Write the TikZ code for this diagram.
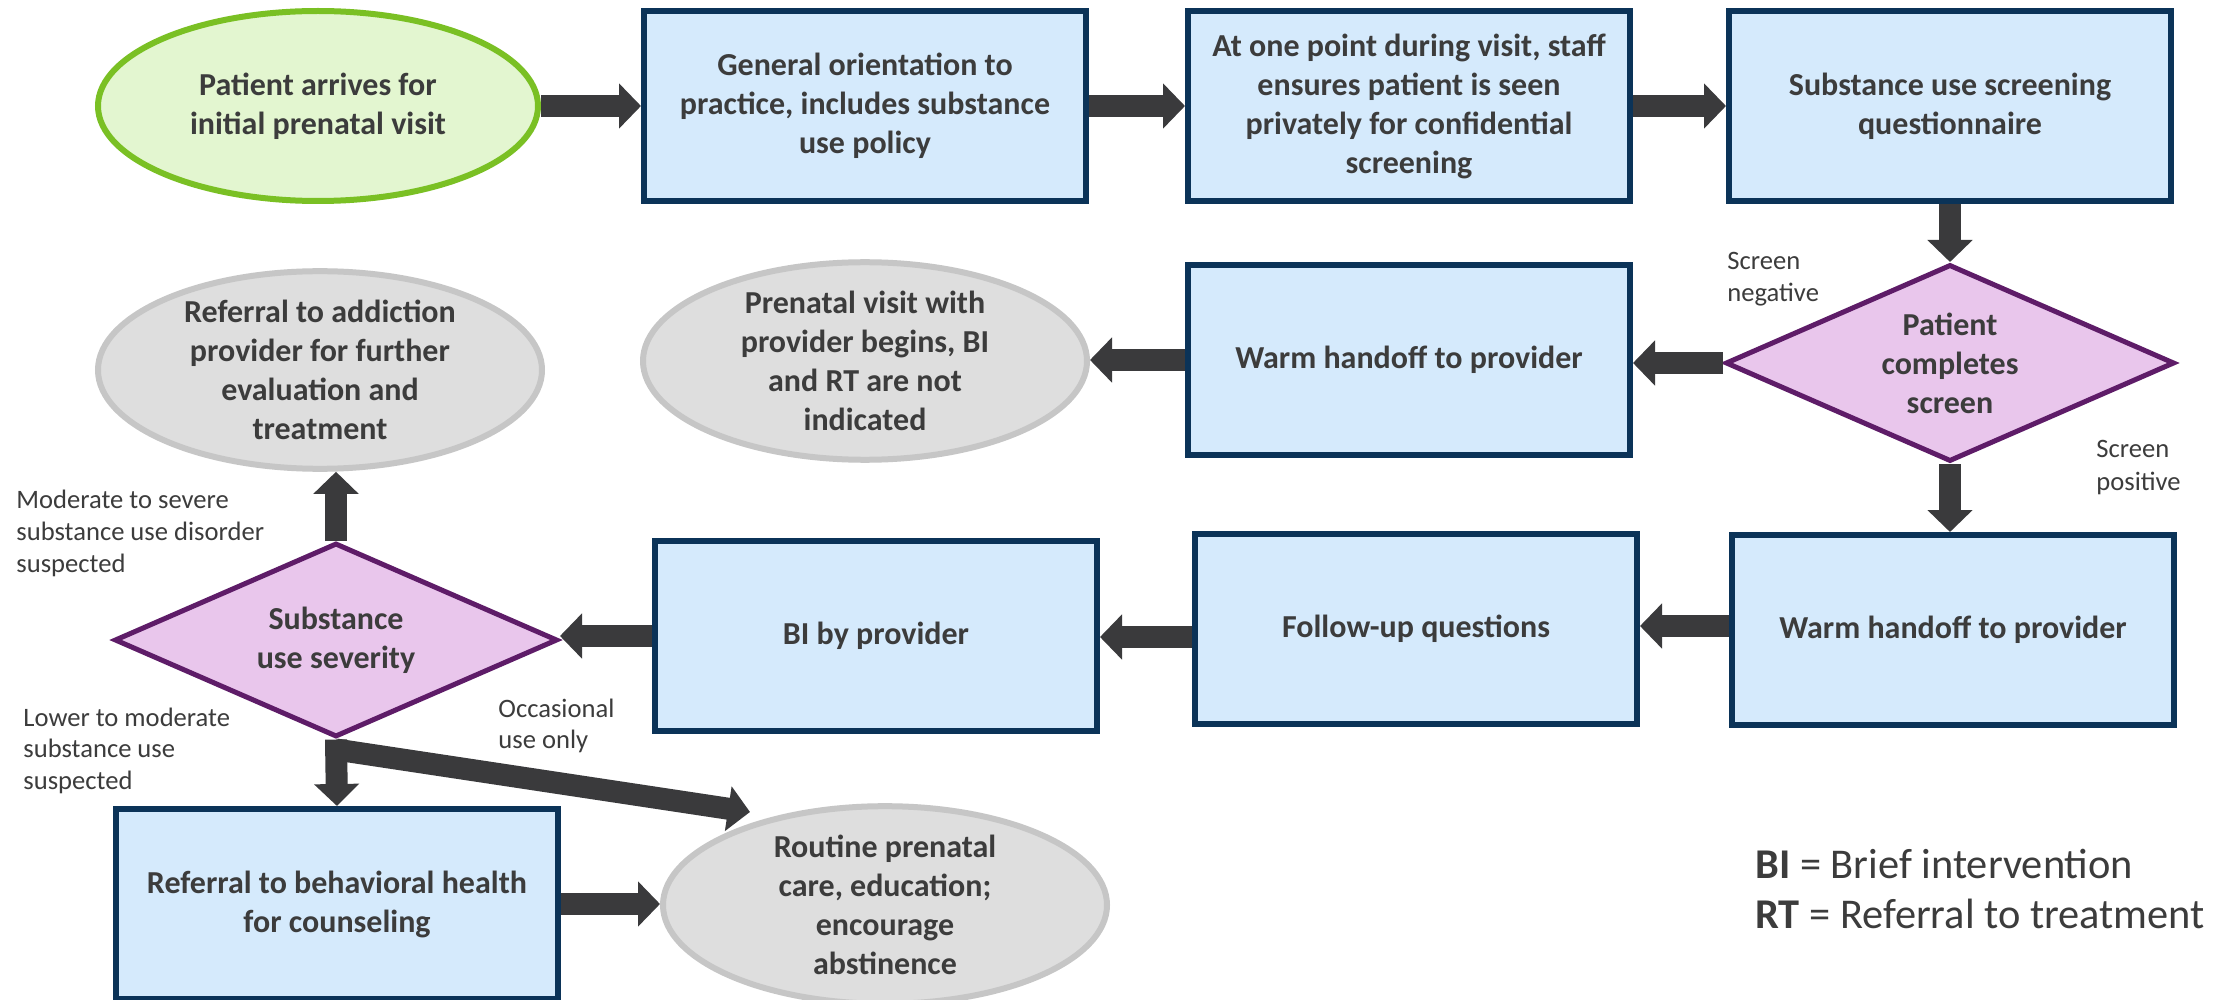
\documentclass[tikz,border=0pt]{standalone}
\usepackage{fontspec}
\setmainfont{Carlito}
\usetikzlibrary{shapes.geometric,arrows.meta,calc}
\definecolor{navy}{HTML}{0B3358}
\definecolor{boxfill}{HTML}{D5EAFC}
\definecolor{grnline}{HTML}{7AC024}
\definecolor{grnfill}{HTML}{E3F6D0}
\definecolor{gryline}{HTML}{C6C6C6}
\definecolor{gryfill}{HTML}{DEDEDE}
\definecolor{dmdfill}{HTML}{E9C6EC}
\definecolor{dmdline}{HTML}{5E1C68}
\definecolor{arr}{HTML}{3A3A3C}
\definecolor{txt}{HTML}{3C3C3C}
\newcommand{\mainfnt}{\fontsize{16pt}{19.5pt}\selectfont\bfseries}
\newcommand{\smallfnt}{\fontsize{13.3pt}{16pt}\selectfont}
\newcommand{\legfnt}{\fontsize{21.2pt}{25pt}\selectfont}
\tikzset{
  stepbox/.style={draw=navy, line width=3pt, fill=boxfill, minimum width=221pt, minimum height=95pt, inner sep=0pt, align=center, font=\mainfnt, text=txt},
  startell/.style={ellipse, draw=grnline, line width=3pt, fill=grnfill, minimum width=220pt, minimum height=95pt, inner sep=0pt, align=center, font=\mainfnt, text=txt},
  endell/.style={ellipse, draw=gryline, line width=3pt, fill=gryfill, minimum width=222pt, minimum height=96pt, inner sep=0pt, align=center, font=\mainfnt, text=txt},
  decide/.style={diamond, aspect=2.3, draw=dmdline, line width=2.5pt, fill=dmdfill, inner sep=0pt, align=center, font=\mainfnt, text=txt},
  flow/.style={draw=arr, line width=11pt, -{Triangle[length=11pt,width=22pt]}},
  lbl/.style={anchor=base west, inner sep=0pt, font=\smallfnt, text=txt},
  leg/.style={anchor=base west, inner sep=0pt, font=\legfnt, text=txt}
}
\begin{document}
\begin{tikzpicture}[x=0.5pt,y=-0.5pt]
\fill[white] (0,0) rectangle (2229,1000);
\useasboundingbox (0,0) rectangle (2229,1000);

% top row
\node[startell] (e1) at (318,106) {Patient arrives for\\initial prenatal visit};
\node[stepbox] (b1) at (865,106) {General orientation to\\practice, includes substance\\use policy};
\node[stepbox] (b2) at (1409,106) {At one point during visit, staff\\ensures patient is seen\\privately for confidential\\screening};
\node[stepbox] (b3) at (1950,106) {Substance use screening\\questionnaire};

% second row
\node[decide, minimum width=224.5pt, minimum height=98.5pt] (d1) at (1950,363) {Patient\\completes\\screen};
\node[stepbox] (b4) at (1409,360) {Warm handoff to provider};
\node[endell] (e3) at (865,361) {Prenatal visit with\\provider begins, BI\\and RT are not\\indicated};
\node[endell] (e2) at (320,370) {Referral to addiction\\provider for further\\evaluation and\\treatment};

% third row
\node[stepbox] (b5) at (1953,630) {Warm handoff to provider};
\node[stepbox] (b6) at (1416,629) {Follow-up questions};
\node[stepbox] (b7) at (876,636) {BI by provider};
\node[decide, minimum width=221.5pt, minimum height=97pt] (d2) at (336,640) {Substance\\use severity};

% bottom row
\node[stepbox] (b8) at (337,904) {Referral to behavioral health\\for counseling};
\node[endell] (e4) at (885,905) {Routine prenatal\\care, education;\\encourage\\abstinence};
\coordinate (occ) at (750,812);

% connectors
\draw[flow] (e1.east) -- (b1.west);
\draw[flow] (b1.east) -- (b2.west);
\draw[flow] (b2.east) -- (b3.west);
\draw[flow] (b3.south) -- (d1.north);
\draw[flow] (d1.west) -- (d1.west -| b4.east);
\draw[flow] (b4.west) -- (b4.west -| e3.east);
\draw[flow] (d1.south) -- (d1.south |- b5.north);
\draw[flow] ([yshift=2pt]b5.west) -- ([yshift=2pt]b5.west -| b6.east);
\draw[flow] ([yshift=-4pt]b6.west) -- ([yshift=-4pt]b6.west -| b7.east);
\draw[flow] (b7.west) -- (b7.west -| d2.east);
\draw[flow] (d2.north) -- (d2.north |- e2.south);
\draw[flow] (d2.south) -- (b8.north);
\draw[flow] ([yshift=-5pt]d2.south) -- (occ);
\draw[flow] (b8.east) -- (b8.east -| e4.west);

% labels
\node[lbl] (ln1) at (1727,270) {Screen};
\node[lbl] (ln2) at (1727,302) {negative};
\node[lbl] (lp1) at (2096,458) {Screen};
\node[lbl] (lp2) at (2096,490) {positive};
\node[lbl] (lm1) at (16,508) {Moderate to severe};
\node[lbl] (lm2) at (16,540) {substance use disorder};
\node[lbl] (lm3) at (16,572) {suspected};
\node[lbl] (ll1) at (23,726) {Lower to moderate};
\node[lbl] (ll2) at (23,757) {substance use};
\node[lbl] (ll3) at (23,789) {suspected};
\node[lbl] (lo1) at (498,717) {Occasional};
\node[lbl] (lo2) at (498,748) {use only};

% legend
\node[leg] (g1) at (1755,878) {\textbf{BI} = Brief intervention};
\node[leg] (g2) at (1755,928) {\textbf{RT} = Referral to treatment};
\end{tikzpicture}
\end{document}
